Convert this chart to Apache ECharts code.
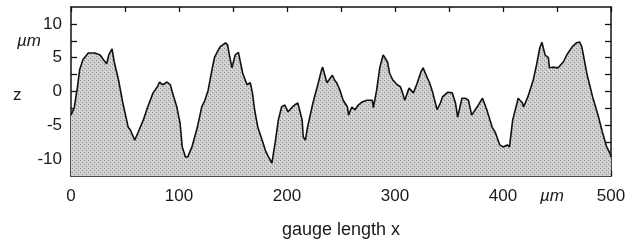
<!DOCTYPE html>
<html>
<head>
<meta charset="utf-8">
<title>surface profile</title>
<script src="https://cdn.jsdelivr.net/npm/echarts/dist/echarts.min.js"></script>
<style>
  html, body { margin: 0; padding: 0; background: #fff; }
  #main { width: 629px; height: 250px; }
</style>
</head>
<body>
<div id="main"></div>
<script>
// profile: gauge length x (µm) and height z (µm)
var gaugeX = [0, 3, 6, 8, 11, 16, 22, 27, 30, 33, 35, 38, 40, 44, 48, 53, 55, 59, 62, 67,
  71, 76, 80, 82, 85, 89, 92, 94, 98, 101, 103, 106, 108, 112, 117, 121, 124, 127, 131, 133,
  135, 138, 143, 145, 147, 149, 152, 155, 156, 159, 163, 166, 168, 170, 173, 177, 180, 182, 186, 189,
  192, 195, 198, 201, 205, 207, 210, 214, 215, 217, 219, 224, 229, 232, 233, 237, 242, 244, 246, 249,
  252, 256, 257, 260, 263, 266, 269, 274, 279, 280, 283, 286, 289, 293, 295, 298, 302, 305, 307, 309,
  313, 317, 320, 324, 326, 330, 332, 335, 339, 342, 344, 349, 353, 356, 358, 362, 365, 368, 371, 376,
  381, 385, 390, 393, 397, 400, 404, 406, 409, 413, 414, 418, 419, 423, 428, 431, 434, 436, 439, 442,
  443, 446, 451, 456, 459, 464, 468, 471, 473, 478, 483, 488, 492, 496, 499, 500];
var heightZ = [-3.5, -2.4, 0.7, 3.2, 4.7, 5.7, 5.7, 5.4, 4.7, 4.1, 5.4, 6.3, 4.4, 1.7, -1.7, -5.3, -5.7, -7.2, -6.1, -4.2,
  -2.3, -0.2, 0.7, 1.4, 1.0, 1.4, 1.0, -0.2, -2.3, -4.7, -8.2, -9.7, -9.7, -8.2, -5.3, -2.3, -1.3, 0.2, 3.6, 5.1,
  5.7, 6.6, 7.2, 6.9, 5.1, 3.5, 5.4, 5.8, 5.0, 2.7, 1.0, 1.3, -0.2, -2.7, -5.3, -7.2, -8.7, -9.4, -10.6, -7.6,
  -4.2, -2.3, -2.0, -3.0, -2.3, -2.0, -1.7, -4.2, -6.7, -7.2, -5.3, -1.7, 1.3, 3.2, 3.6, 1.3, 2.4, 1.7, 1.3, 0.2,
  -1.3, -2.3, -3.5, -2.3, -2.7, -2.0, -1.6, -1.3, -1.3, -2.4, 0.2, 3.6, 5.4, 4.4, 2.7, 1.7, 1.0, 0.7, -0.2, -1.3,
  0.5, -0.2, 1.0, 2.9, 3.5, 2.0, 1.3, -0.2, -2.7, -1.7, -0.8, -0.1, -0.2, -1.7, -3.8, -1.0, -1.0, -1.3, -3.5, -2.3,
  -1.0, -2.7, -5.3, -6.1, -7.9, -8.2, -7.9, -8.2, -4.2, -1.7, -1.0, -1.7, -2.3, -0.8, 1.7, 3.9, 6.4, 7.3, 5.4, 5.0,
  3.5, 3.6, 3.5, 4.4, 5.4, 6.6, 7.2, 7.3, 6.6, 2.4, -0.8, -3.5, -6.0, -8.2, -9.1, -9.7];

var xTicks = [0, 50, 100, 150, 200, 250, 300, 350, 400, 450, 500];
var xLabels = [0, 100, 200, 300, 400, 500];
var zTicks = [-10, -7.5, -5, -2.5, 0, 2.5, 5, 7.5, 10];
var zLabels = [-10, -5, 0, 5, 10];

var points = gaugeX.map(function (x, i) { return [x, heightZ[i]]; });

// small stipple tile so the fill looks like the printed grey screen
var tile = document.createElement('canvas');
tile.width = 4; tile.height = 4;
var tc = tile.getContext('2d');
tc.fillStyle = '#cdcdcd';
tc.fillRect(0, 0, 4, 4);
tc.fillStyle = '#8e8e8e';
tc.fillRect(0, 0, 1, 1);
tc.fillRect(2, 2, 1, 1);
tc.fillStyle = '#e6e6e6';
tc.fillRect(1, 3, 1, 1);
tc.fillRect(3, 1, 1, 1);

var chart = echarts.init(document.getElementById('main'));
var font = 'Liberation Sans, Arial, sans-serif';
var frame = { show: true, onZero: false, lineStyle: { color: '#111', width: 1.5 } };

var option = {
  animation: false,
  grid: { left: 71, right: 18, top: 7, bottom: 74, show: false },
  xAxis: [{
    type: 'value', min: 0, max: 500, position: 'bottom',
    axisLine: frame,
    axisTick: { inside: true, length: 5, customValues: xTicks, lineStyle: { color: '#111', width: 1.3 } },
    axisLabel: { customValues: xLabels, margin: 12, color: '#1a1a1a', fontSize: 17, fontFamily: font },
    splitLine: { show: false },
    name: 'gauge length x', nameLocation: 'middle', nameGap: 45,
    nameTextStyle: { color: '#1a1a1a', fontSize: 18, fontFamily: font }
  }, {
    type: 'value', min: 0, max: 500, position: 'top',
    axisLine: frame,
    axisTick: { inside: true, length: 5, customValues: xTicks, lineStyle: { color: '#111', width: 1.3 } },
    axisLabel: { show: false },
    splitLine: { show: false }
  }],
  yAxis: [{
    type: 'value', min: -12.5, max: 12.5, position: 'left',
    axisLine: frame,
    axisTick: { inside: true, length: 6, customValues: zTicks, lineStyle: { color: '#111', width: 1.3 } },
    axisLabel: { customValues: zLabels, margin: 9, color: '#1a1a1a', fontSize: 17, fontFamily: font },
    splitLine: { show: false }
  }, {
    type: 'value', min: -12.5, max: 12.5, position: 'right',
    axisLine: frame,
    axisTick: { inside: true, length: 6, customValues: zTicks, lineStyle: { color: '#111', width: 1.3 } },
    axisLabel: { show: false },
    splitLine: { show: false }
  }],
  graphic: [
    { type: 'text', left: 13, top: 87, style: { text: 'z', fill: '#1a1a1a', font: '17px ' + font } },
    { type: 'text', left: 17, top: 33, style: { text: 'µm', fill: '#1a1a1a', font: 'italic 17px ' + font } },
    { type: 'text', left: 540, top: 188, style: { text: 'µm', fill: '#1a1a1a', font: 'italic 17px ' + font } }
  ],
  series: [{
    type: 'line',
    data: points,
    showSymbol: false,
    smooth: false,
    lineStyle: { color: '#111', width: 1.6 },
    areaStyle: { color: { image: tile, repeat: 'repeat' }, opacity: 1, origin: 'start' }
  }]
};

chart.setOption(option);
</script>
</body>
</html>
